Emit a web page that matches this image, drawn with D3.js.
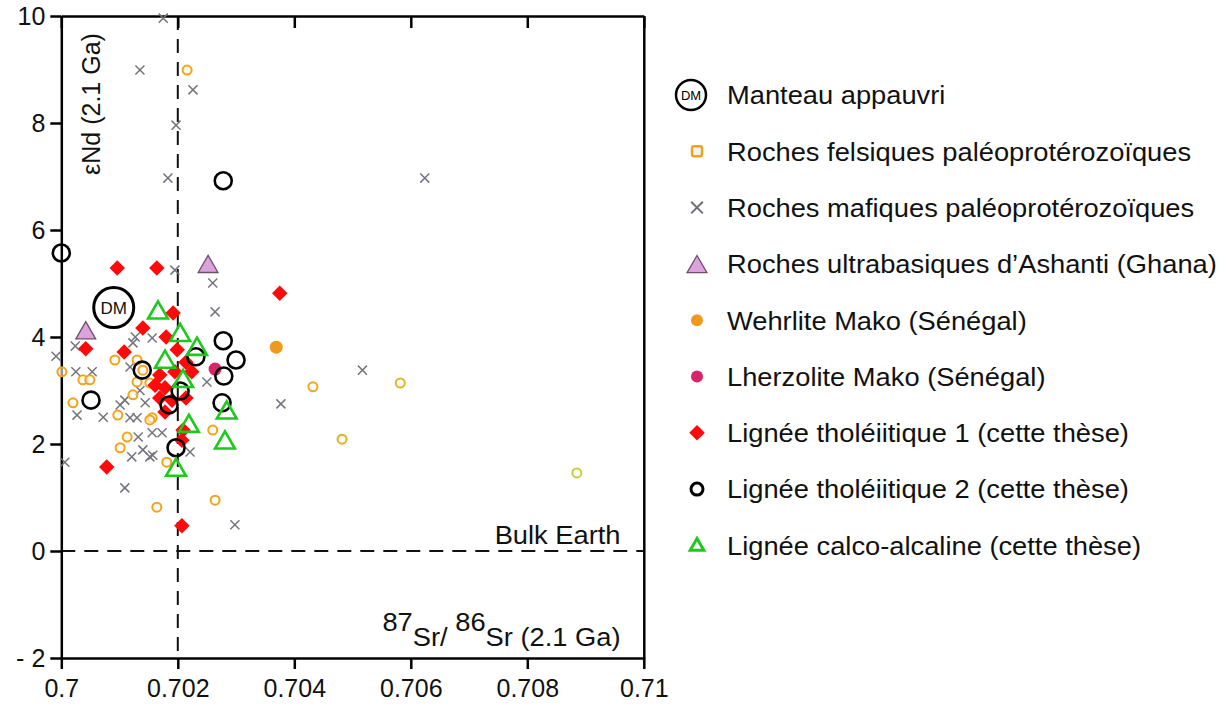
<!DOCTYPE html>
<html><head><meta charset="utf-8">
<script src="https://cdn.jsdelivr.net/npm/d3@7"></script>
<style>
html,body{margin:0;padding:0;background:#fff;}
svg{display:block;font-family:"Liberation Sans",Arial,sans-serif;}
</style></head>
<body>
<svg id="chart" width="1221" height="709"></svg>
<script>
// ---- data ----
const xTicks = [0.7, 0.702, 0.704, 0.706, 0.708, 0.71];
const xTickLabels = ["0.7", "0.702", "0.704", "0.706", "0.708", "0.71"];
const yTicks = [-2, 0, 2, 4, 6, 8, 10];
const yTickLabels = ["- 2", "0", "2", "4", "6", "8", "10"];

const depletedMantle = [[0.7009, 4.55]];
const felsic = [
  [0.70216, 8.99], [0.70001, 3.35], [0.70020, 2.77], [0.70037, 3.20], [0.70049, 3.20],
  [0.70092, 3.57], [0.70130, 3.57], [0.70140, 3.38], [0.70123, 2.92], [0.70097, 2.54],
  [0.70156, 2.49], [0.70113, 2.13], [0.70101, 1.93], [0.70181, 1.66], [0.70152, 2.45],
  [0.70260, 2.26], [0.70164, 0.82], [0.70264, 0.95], [0.70432, 3.07], [0.70482, 2.09],
  [0.70582, 3.14], [0.70885, 1.46], [0.70152, 3.14], [0.70130, 3.16]
];
const mafic = [
  [0.70175, 9.96], [0.70135, 8.99], [0.70226, 8.62], [0.70197, 7.96], [0.70183, 6.97],
  [0.70624, 6.97], [0.70195, 5.25], [0.70260, 5.01], [0.70264, 4.47], [0.70024, 3.83],
  [0.69991, 3.64], [0.70025, 3.35], [0.70053, 3.35], [0.70127, 4.00], [0.70156, 3.98],
  [0.70123, 3.89], [0.70250, 3.16], [0.70109, 2.82], [0.70118, 2.49], [0.70130, 2.49],
  [0.70144, 2.77], [0.70156, 2.21], [0.70132, 2.13], [0.70121, 1.76], [0.70152, 1.76],
  [0.70140, 1.89], [0.70173, 2.21], [0.70072, 2.50], [0.70027, 2.54], [0.70221, 1.85],
  [0.70157, 1.79], [0.70006, 1.66], [0.70109, 1.18], [0.70298, 0.49], [0.70377, 2.75],
  [0.70517, 3.38], [0.70118, 3.44], [0.70135, 3.00], [0.70101, 2.73]
];
const ultrabasic = [[0.70252, 5.35], [0.70042, 4.11]];
const wehrlite = [[0.70369, 3.81]];
const lherzolite = [[0.70264, 3.40]];
const tholeiitic1 = [
  [0.70096, 5.29], [0.70164, 5.29], [0.70375, 4.82], [0.70192, 4.45], [0.70140, 4.17],
  [0.70180, 4.00], [0.70042, 3.78], [0.70108, 3.72], [0.70199, 3.76], [0.70214, 3.53],
  [0.70169, 3.29], [0.70195, 3.35], [0.70224, 3.35], [0.70161, 3.10], [0.70178, 3.05],
  [0.70169, 2.86], [0.70190, 2.82], [0.70214, 2.86], [0.70178, 2.60], [0.70209, 2.26],
  [0.70207, 2.07], [0.70078, 1.57], [0.70207, 0.47]
];
const tholeiitic2 = [
  [0.70000, 5.57], [0.70278, 6.92], [0.70278, 3.93], [0.70231, 3.63], [0.70300, 3.57],
  [0.70279, 3.27], [0.70139, 3.38], [0.70051, 2.82], [0.70204, 2.99], [0.70185, 2.73],
  [0.70276, 2.77], [0.70197, 1.93]
];
const calcAlkaline = [
  [0.70166, 4.49], [0.70204, 4.07], [0.70233, 3.81], [0.70178, 3.57], [0.70209, 3.21],
  [0.70219, 2.37], [0.70284, 2.62], [0.70281, 2.06], [0.70197, 1.55]
];
const legendLabels = [
  "Manteau appauvri",
  "Roches felsiques paléoprotérozoïques",
  "Roches mafiques paléoprotérozoïques",
  "Roches ultrabasiques d’Ashanti (Ghana)",
  "Wehrlite Mako (Sénégal)",
  "Lherzolite Mako (Sénégal)",
  "Lignée tholéiitique 1 (cette thèse)",
  "Lignée tholéiitique 2 (cette thèse)",
  "Lignée calco-alcaline (cette thèse)"
];
const bulkEarthSr = 0.702;
const bulkEarthNd = 0;

// ---- layout ----
const svg = d3.select("#chart");
const L = 61.3, R = 643.8, T = 16, B = 658;
const x = d3.scaleLinear().domain([0.7, 0.71]).range([L, R]);
const y = d3.scaleLinear().domain([-2, 10]).range([B, T]);
const felsicColor = d3.scaleLinear().domain([0.7035, 0.709]).range(["#f2a31e", "#c2cf45"]).clamp(true);

// reference lines
svg.append("line").attr("x1", x(bulkEarthSr)).attr("x2", x(bulkEarthSr))
  .attr("y1", T).attr("y2", B).attr("stroke", "#111").attr("stroke-width", 2).attr("stroke-dasharray", "14,9");
svg.append("line").attr("x1", L).attr("x2", R)
  .attr("y1", y(bulkEarthNd)).attr("y2", y(bulkEarthNd)).attr("stroke", "#111").attr("stroke-width", 2).attr("stroke-dasharray", "14,9");

// axes
const fontSize = 24, textSize = 26, stretch = 1.05;
const gB = svg.append("g").attr("transform", `translate(0,${B})`)
  .call(d3.axisBottom(x).tickValues(xTicks).tickFormat((d, i) => xTickLabels[i]).tickSize(11).tickSizeOuter(0).tickPadding(10));
const gL = svg.append("g").attr("transform", `translate(${L},0)`)
  .call(d3.axisLeft(y).tickValues(yTicks).tickFormat((d, i) => yTickLabels[i]).tickSize(11).tickSizeOuter(0).tickPadding(5));
const gT = svg.append("g").attr("transform", `translate(0,${T})`)
  .call(d3.axisTop(x).tickValues(xTicks).tickFormat("").tickSize(-12).tickSizeOuter(0));
const gR = svg.append("g").attr("transform", `translate(${R},0)`)
  .call(d3.axisRight(y).tickValues([]).tickSizeOuter(0));
[gB, gL, gT, gR].forEach(g => {
  g.selectAll("path,line").attr("stroke", "#000").attr("stroke-width", 2.5);
  g.selectAll("text").attr("font-size", fontSize + 1).attr("fill", "#111").attr("font-family", "Liberation Sans, Arial, sans-serif");
});

// axis titles
svg.append("text").attr("transform", `translate(100,104) rotate(-90)`)
  .attr("text-anchor", "middle").attr("font-size", 25).attr("fill", "#111").text("εNd (2.1 Ga)");
svg.append("text").attr("transform", `translate(${x(0.7096)},${y(0.14)}) scale(${stretch},1)`).attr("text-anchor", "end")
  .attr("font-size", textSize).attr("fill", "#111").text("Bulk Earth");
const srT = svg.append("text").attr("transform", `translate(${x(0.7096)},646) scale(${stretch},1)`).attr("text-anchor", "end")
  .attr("font-size", textSize).attr("fill", "#111");
srT.append("tspan").attr("dy", -15).text("87");
srT.append("tspan").attr("dy", 15).text("Sr/ ");
srT.append("tspan").attr("dy", -15).text("86");
srT.append("tspan").attr("dy", 15).text("Sr (2.1 Ga)");

// marker helpers
const sym = {
  cross: d3.symbol().type(d3.symbolX).size(55),
  tri: d3.symbol().type(d3.symbolTriangle).size(170),
  diamond: d3.symbol().type(d3.symbolSquare).size(120)
};
function plot(data, draw) {
  return svg.append("g").selectAll("g").data(data).join("g")
    .attr("transform", d => `translate(${x(d[0])},${y(d[1])})`).call(draw);
}

// mafic x
plot(mafic, s => s.append("path").attr("d", sym.cross()).attr("fill", "none").attr("stroke", "#74747e").attr("stroke-width", 1.5));
// felsic open circles
plot(felsic, s => s.append("circle").attr("r", 4.5).attr("fill", "#fff8e8").attr("fill-opacity", 0.6)
  .attr("stroke", d => felsicColor(d[0])).attr("stroke-width", 2));
// ultrabasic triangles
plot(ultrabasic, s => s.append("path").attr("d", sym.tri()).attr("transform", "translate(0,2)")
  .attr("fill", "#dca2dc").attr("stroke", "#6d4f6d").attr("stroke-width", 1.3));
// wehrlite
plot(wehrlite, s => s.append("circle").attr("r", 6.5).attr("fill", "#ef9a1f"));
// lherzolite
plot(lherzolite, s => s.append("circle").attr("r", 6.5).attr("fill", "#d8246a"));
// tholeiitic 1 red diamonds
plot(tholeiitic1, s => s.append("path").attr("d", sym.diamond()).attr("transform", "rotate(45)").attr("fill", "#ff0a0a"));
// tholeiitic 2 black circles
plot(tholeiitic2, s => s.append("circle").attr("r", 8.5).attr("fill", "none").attr("stroke", "#000").attr("stroke-width", 2.6));
// calc-alkaline green triangles
plot(calcAlkaline, s => s.append("path").attr("d", sym.tri()).attr("transform", "translate(0,2)")
  .attr("fill", "none").attr("stroke", "#1ec81e").attr("stroke-width", 2.6));
// depleted mantle
plot(depletedMantle, s => {
  s.append("circle").attr("r", 20).attr("fill", "#fff").attr("stroke", "#000").attr("stroke-width", 3);
  s.append("text").attr("text-anchor", "middle").attr("dy", "0.36em").attr("font-size", 17).attr("fill", "#111").text("DM");
});

// legend
const lx = 697, tx = 727, ly0 = 95, ldy = 56.3;
const leg = svg.append("g");
legendLabels.forEach((lab, i) => {
  leg.append("text").attr("transform", `translate(${tx},${ly0 + i * ldy}) scale(${stretch},1)`).attr("dy", "0.36em")
    .attr("font-size", textSize).attr("fill", "#111").text(lab);
});
const ls = (i) => leg.append("g").attr("transform", `translate(${lx},${ly0 + i * ldy})`);
let g0 = ls(0); g0.attr("transform", `translate(${lx - 6},${ly0})`);
g0.append("circle").attr("r", 15).attr("fill", "#fff").attr("stroke", "#000").attr("stroke-width", 2.5);
g0.append("text").attr("text-anchor", "middle").attr("dy", "0.36em").attr("font-size", 13).text("DM");
ls(1).append("rect").attr("x", -5).attr("y", -5).attr("width", 10).attr("height", 10).attr("rx", 2)
  .attr("fill", "#eef4ff").attr("stroke", "#f2a31e").attr("stroke-width", 2.5);
ls(2).append("path").attr("d", d3.symbol().type(d3.symbolX).size(90)()).attr("stroke", "#6e6e78").attr("stroke-width", 2).attr("fill", "none");
ls(3).append("path").attr("d", sym.tri()).attr("transform", "translate(0,3)").attr("fill", "#dca2dc").attr("stroke", "#6d4f6d").attr("stroke-width", 1.3);
ls(4).append("circle").attr("r", 6).attr("fill", "#ef9a1f");
ls(5).append("circle").attr("r", 6).attr("fill", "#d8246a");
ls(6).append("path").attr("d", sym.diamond()).attr("transform", "rotate(45)").attr("fill", "#ff0a0a");
ls(7).append("circle").attr("r", 6).attr("fill", "none").attr("stroke", "#000").attr("stroke-width", 3);
ls(8).append("path").attr("d", d3.symbol().type(d3.symbolTriangle).size(80)()).attr("transform", "translate(0,1)")
  .attr("fill", "none").attr("stroke", "#1ec81e").attr("stroke-width", 3);
</script>
</body></html>
